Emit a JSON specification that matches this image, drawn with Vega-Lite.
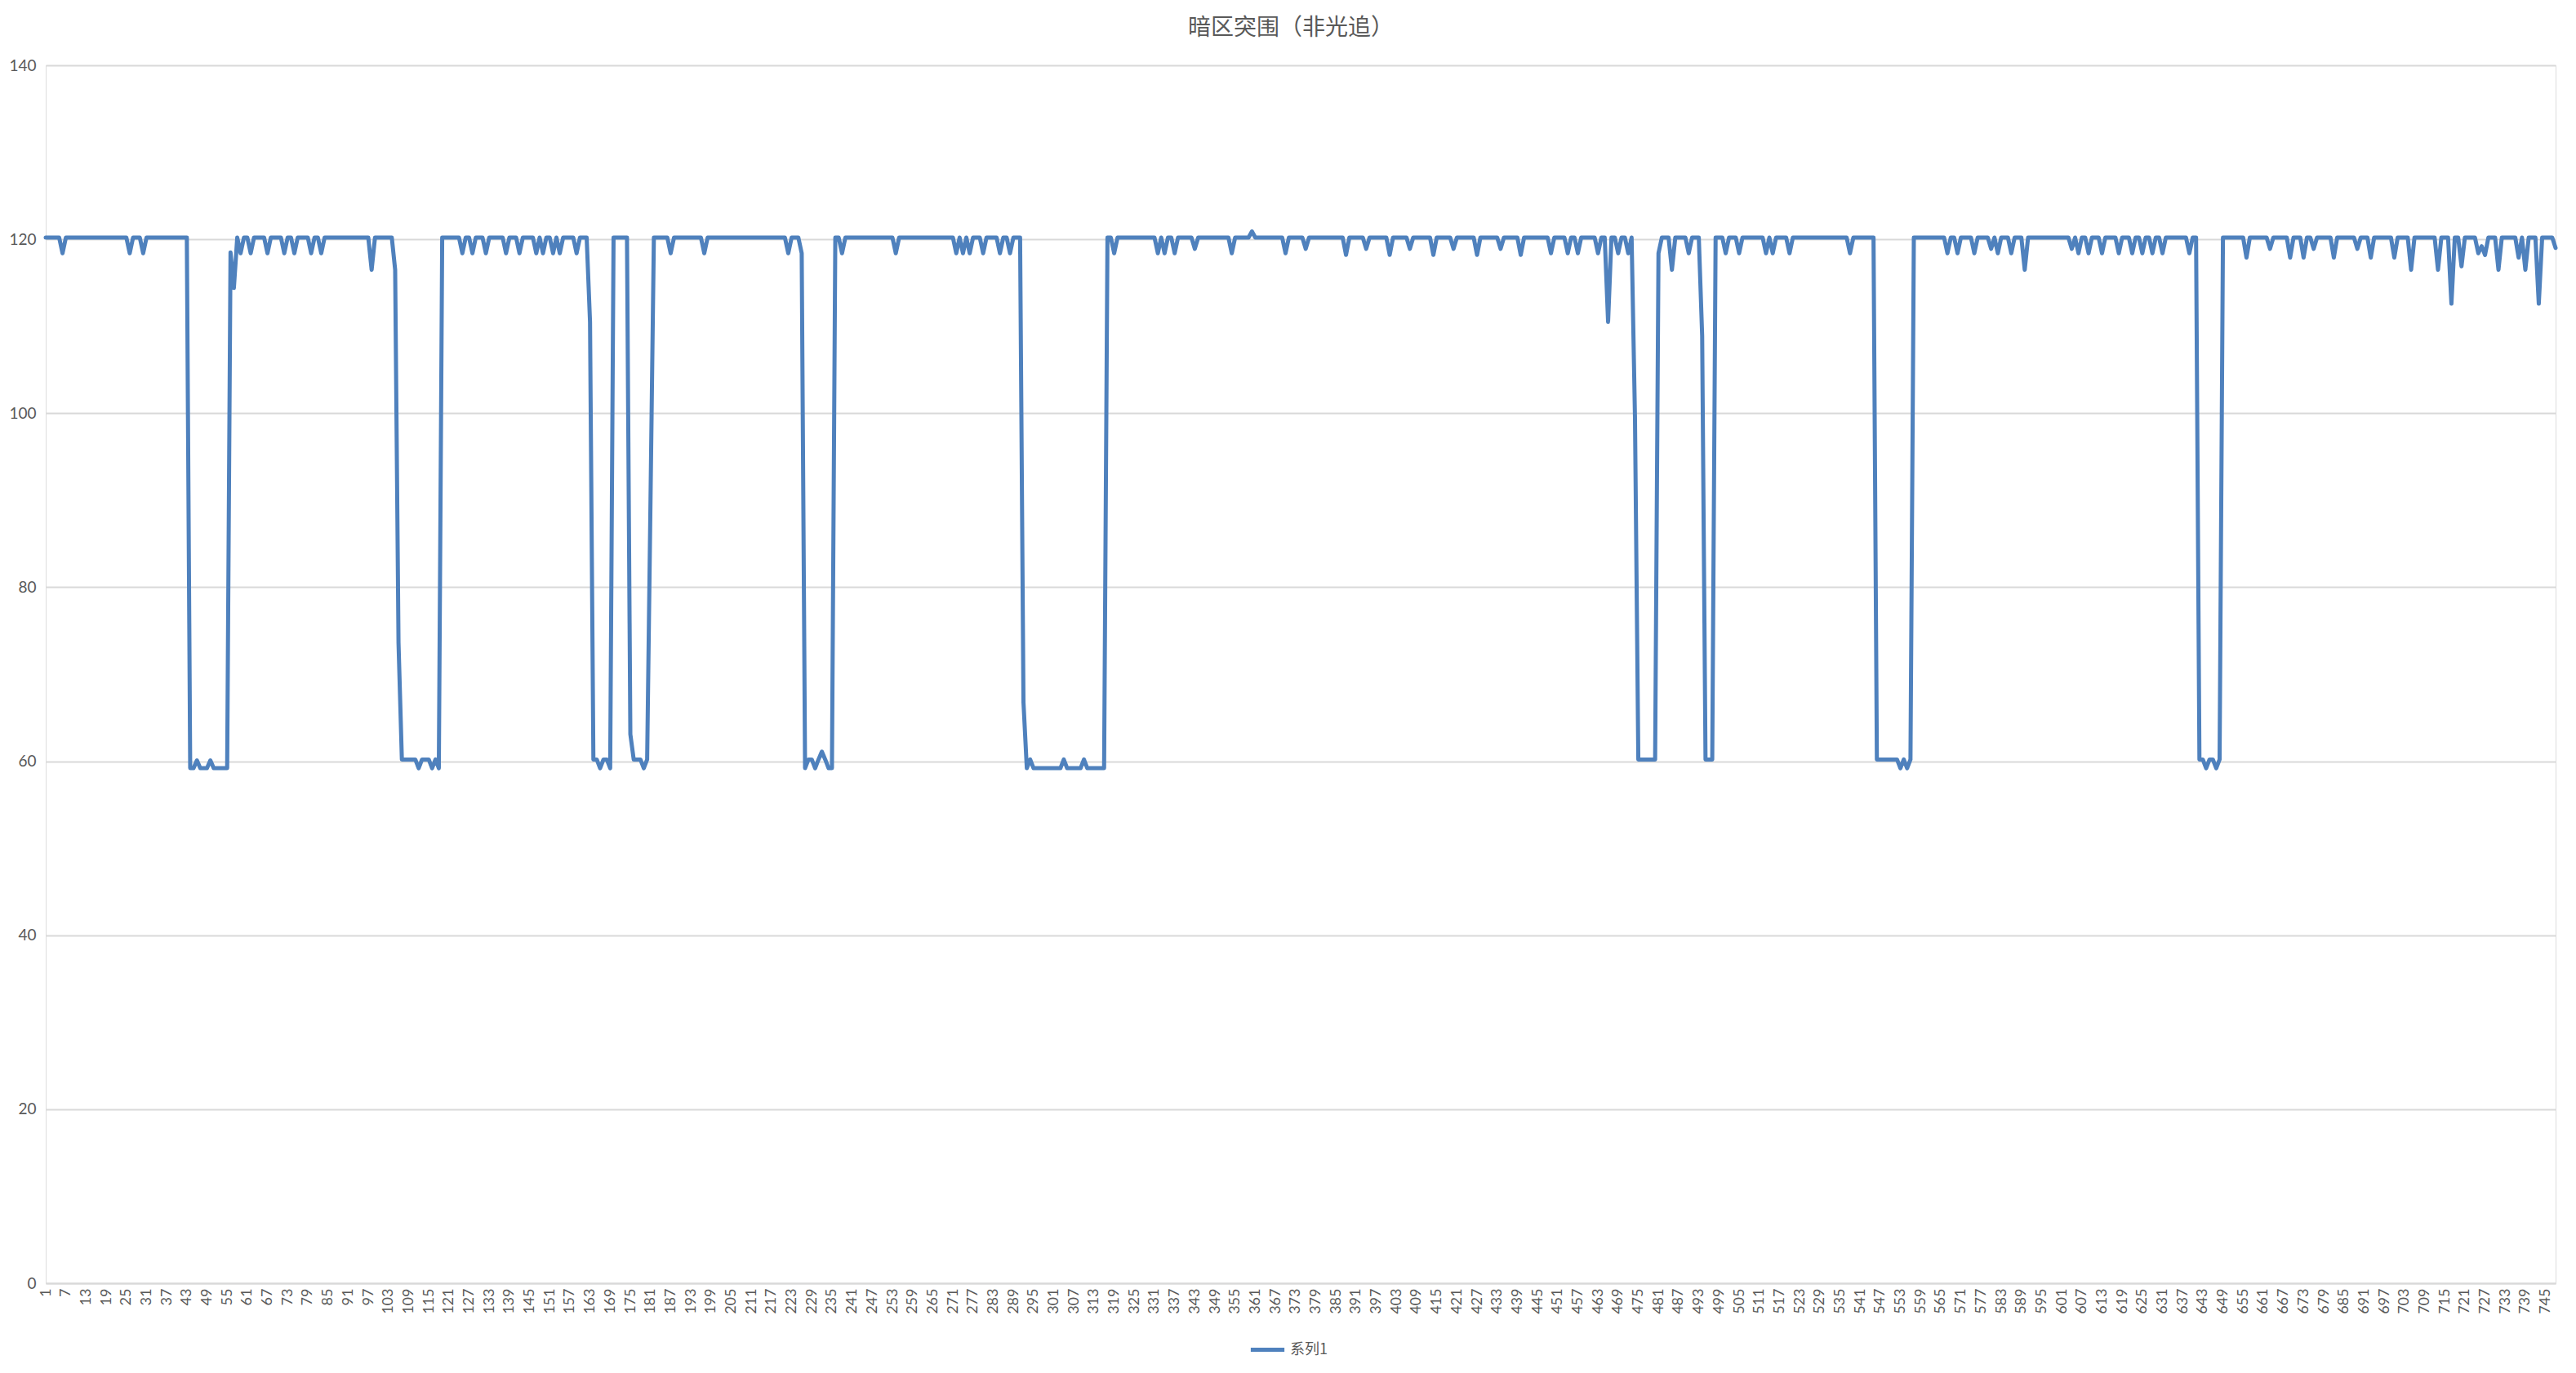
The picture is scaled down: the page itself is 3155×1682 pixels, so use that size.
{
"$schema": "https://vega.github.io/schema/vega-lite/v6.json",
"width": 3074,
"height": 1492,
"autosize": {"type": "none"},
"padding": {"left": 56, "top": 80, "right": 25, "bottom": 110},
"background": "white",
"title": {"text": "暗区突围（非光追）", "font": "Noto Sans CJK SC", "fontSize": 28, "fontWeight": "normal", "color": "#595959", "anchor": "middle", "offset": 22, "dx": -12},
"data": {"values": [
{"i":1,"v":120.2},{"i":2,"v":120.2},{"i":3,"v":120.2},{"i":4,"v":120.2},{"i":5,"v":120.2},{"i":6,"v":118.4},{"i":7,"v":120.2},{"i":8,"v":120.2},{"i":9,"v":120.2},{"i":10,"v":120.2},
{"i":11,"v":120.2},{"i":12,"v":120.2},{"i":13,"v":120.2},{"i":14,"v":120.2},{"i":15,"v":120.2},{"i":16,"v":120.2},{"i":17,"v":120.2},{"i":18,"v":120.2},{"i":19,"v":120.2},{"i":20,"v":120.2},
{"i":21,"v":120.2},{"i":22,"v":120.2},{"i":23,"v":120.2},{"i":24,"v":120.2},{"i":25,"v":120.2},{"i":26,"v":118.4},{"i":27,"v":120.2},{"i":28,"v":120.2},{"i":29,"v":120.2},{"i":30,"v":118.4},
{"i":31,"v":120.2},{"i":32,"v":120.2},{"i":33,"v":120.2},{"i":34,"v":120.2},{"i":35,"v":120.2},{"i":36,"v":120.2},{"i":37,"v":120.2},{"i":38,"v":120.2},{"i":39,"v":120.2},{"i":40,"v":120.2},
{"i":41,"v":120.2},{"i":42,"v":120.2},{"i":43,"v":120.2},{"i":44,"v":59.2},{"i":45,"v":59.2},{"i":46,"v":60.1},{"i":47,"v":59.2},{"i":48,"v":59.2},{"i":49,"v":59.2},{"i":50,"v":60.1},
{"i":51,"v":59.2},{"i":52,"v":59.2},{"i":53,"v":59.2},{"i":54,"v":59.2},{"i":55,"v":59.2},{"i":56,"v":118.5},{"i":57,"v":114.4},{"i":58,"v":120.2},{"i":59,"v":118.4},{"i":60,"v":120.2},
{"i":61,"v":120.2},{"i":62,"v":118.4},{"i":63,"v":120.2},{"i":64,"v":120.2},{"i":65,"v":120.2},{"i":66,"v":120.2},{"i":67,"v":118.4},{"i":68,"v":120.2},{"i":69,"v":120.2},{"i":70,"v":120.2},
{"i":71,"v":120.2},{"i":72,"v":118.4},{"i":73,"v":120.2},{"i":74,"v":120.2},{"i":75,"v":118.4},{"i":76,"v":120.2},{"i":77,"v":120.2},{"i":78,"v":120.2},{"i":79,"v":120.2},{"i":80,"v":118.4},
{"i":81,"v":120.2},{"i":82,"v":120.2},{"i":83,"v":118.4},{"i":84,"v":120.2},{"i":85,"v":120.2},{"i":86,"v":120.2},{"i":87,"v":120.2},{"i":88,"v":120.2},{"i":89,"v":120.2},{"i":90,"v":120.2},
{"i":91,"v":120.2},{"i":92,"v":120.2},{"i":93,"v":120.2},{"i":94,"v":120.2},{"i":95,"v":120.2},{"i":96,"v":120.2},{"i":97,"v":120.2},{"i":98,"v":116.5},{"i":99,"v":120.2},{"i":100,"v":120.2},
{"i":101,"v":120.2},{"i":102,"v":120.2},{"i":103,"v":120.2},{"i":104,"v":120.2},{"i":105,"v":116.5},{"i":106,"v":73.6},{"i":107,"v":60.2},{"i":108,"v":60.2},{"i":109,"v":60.2},{"i":110,"v":60.2},
{"i":111,"v":60.2},{"i":112,"v":59.2},{"i":113,"v":60.2},{"i":114,"v":60.2},{"i":115,"v":60.2},{"i":116,"v":59.2},{"i":117,"v":60.2},{"i":118,"v":59.2},{"i":119,"v":120.2},{"i":120,"v":120.2},
{"i":121,"v":120.2},{"i":122,"v":120.2},{"i":123,"v":120.2},{"i":124,"v":120.2},{"i":125,"v":118.4},{"i":126,"v":120.2},{"i":127,"v":120.2},{"i":128,"v":118.4},{"i":129,"v":120.2},{"i":130,"v":120.2},
{"i":131,"v":120.2},{"i":132,"v":118.4},{"i":133,"v":120.2},{"i":134,"v":120.2},{"i":135,"v":120.2},{"i":136,"v":120.2},{"i":137,"v":120.2},{"i":138,"v":118.4},{"i":139,"v":120.2},{"i":140,"v":120.2},
{"i":141,"v":120.2},{"i":142,"v":118.4},{"i":143,"v":120.2},{"i":144,"v":120.2},{"i":145,"v":120.2},{"i":146,"v":120.2},{"i":147,"v":118.4},{"i":148,"v":120.2},{"i":149,"v":118.4},{"i":150,"v":120.2},
{"i":151,"v":120.2},{"i":152,"v":118.4},{"i":153,"v":120.2},{"i":154,"v":118.4},{"i":155,"v":120.2},{"i":156,"v":120.2},{"i":157,"v":120.2},{"i":158,"v":120.2},{"i":159,"v":118.4},{"i":160,"v":120.2},
{"i":161,"v":120.2},{"i":162,"v":120.2},{"i":163,"v":110.5},{"i":164,"v":60.2},{"i":165,"v":60.2},{"i":166,"v":59.2},{"i":167,"v":60.2},{"i":168,"v":60.2},{"i":169,"v":59.2},{"i":170,"v":120.2},
{"i":171,"v":120.2},{"i":172,"v":120.2},{"i":173,"v":120.2},{"i":174,"v":120.2},{"i":175,"v":63.1},{"i":176,"v":60.2},{"i":177,"v":60.2},{"i":178,"v":60.2},{"i":179,"v":59.2},{"i":180,"v":60.2},
{"i":181,"v":90.0},{"i":182,"v":120.2},{"i":183,"v":120.2},{"i":184,"v":120.2},{"i":185,"v":120.2},{"i":186,"v":120.2},{"i":187,"v":118.4},{"i":188,"v":120.2},{"i":189,"v":120.2},{"i":190,"v":120.2},
{"i":191,"v":120.2},{"i":192,"v":120.2},{"i":193,"v":120.2},{"i":194,"v":120.2},{"i":195,"v":120.2},{"i":196,"v":120.2},{"i":197,"v":118.4},{"i":198,"v":120.2},{"i":199,"v":120.2},{"i":200,"v":120.2},
{"i":201,"v":120.2},{"i":202,"v":120.2},{"i":203,"v":120.2},{"i":204,"v":120.2},{"i":205,"v":120.2},{"i":206,"v":120.2},{"i":207,"v":120.2},{"i":208,"v":120.2},{"i":209,"v":120.2},{"i":210,"v":120.2},
{"i":211,"v":120.2},{"i":212,"v":120.2},{"i":213,"v":120.2},{"i":214,"v":120.2},{"i":215,"v":120.2},{"i":216,"v":120.2},{"i":217,"v":120.2},{"i":218,"v":120.2},{"i":219,"v":120.2},{"i":220,"v":120.2},
{"i":221,"v":120.2},{"i":222,"v":118.4},{"i":223,"v":120.2},{"i":224,"v":120.2},{"i":225,"v":120.2},{"i":226,"v":118.4},{"i":227,"v":59.2},{"i":228,"v":60.2},{"i":229,"v":60.2},{"i":230,"v":59.2},
{"i":231,"v":60.2},{"i":232,"v":61.1},{"i":233,"v":60.2},{"i":234,"v":59.2},{"i":235,"v":59.2},{"i":236,"v":120.2},{"i":237,"v":120.2},{"i":238,"v":118.4},{"i":239,"v":120.2},{"i":240,"v":120.2},
{"i":241,"v":120.2},{"i":242,"v":120.2},{"i":243,"v":120.2},{"i":244,"v":120.2},{"i":245,"v":120.2},{"i":246,"v":120.2},{"i":247,"v":120.2},{"i":248,"v":120.2},{"i":249,"v":120.2},{"i":250,"v":120.2},
{"i":251,"v":120.2},{"i":252,"v":120.2},{"i":253,"v":120.2},{"i":254,"v":118.4},{"i":255,"v":120.2},{"i":256,"v":120.2},{"i":257,"v":120.2},{"i":258,"v":120.2},{"i":259,"v":120.2},{"i":260,"v":120.2},
{"i":261,"v":120.2},{"i":262,"v":120.2},{"i":263,"v":120.2},{"i":264,"v":120.2},{"i":265,"v":120.2},{"i":266,"v":120.2},{"i":267,"v":120.2},{"i":268,"v":120.2},{"i":269,"v":120.2},{"i":270,"v":120.2},
{"i":271,"v":120.2},{"i":272,"v":118.4},{"i":273,"v":120.2},{"i":274,"v":118.4},{"i":275,"v":120.2},{"i":276,"v":118.4},{"i":277,"v":120.2},{"i":278,"v":120.2},{"i":279,"v":120.2},{"i":280,"v":118.4},
{"i":281,"v":120.2},{"i":282,"v":120.2},{"i":283,"v":120.2},{"i":284,"v":120.2},{"i":285,"v":118.4},{"i":286,"v":120.2},{"i":287,"v":120.2},{"i":288,"v":118.4},{"i":289,"v":120.2},{"i":290,"v":120.2},
{"i":291,"v":120.2},{"i":292,"v":66.8},{"i":293,"v":59.2},{"i":294,"v":60.2},{"i":295,"v":59.2},{"i":296,"v":59.2},{"i":297,"v":59.2},{"i":298,"v":59.2},{"i":299,"v":59.2},{"i":300,"v":59.2},
{"i":301,"v":59.2},{"i":302,"v":59.2},{"i":303,"v":59.2},{"i":304,"v":60.2},{"i":305,"v":59.2},{"i":306,"v":59.2},{"i":307,"v":59.2},{"i":308,"v":59.2},{"i":309,"v":59.2},{"i":310,"v":60.2},
{"i":311,"v":59.2},{"i":312,"v":59.2},{"i":313,"v":59.2},{"i":314,"v":59.2},{"i":315,"v":59.2},{"i":316,"v":59.2},{"i":317,"v":120.2},{"i":318,"v":120.2},{"i":319,"v":118.4},{"i":320,"v":120.2},
{"i":321,"v":120.2},{"i":322,"v":120.2},{"i":323,"v":120.2},{"i":324,"v":120.2},{"i":325,"v":120.2},{"i":326,"v":120.2},{"i":327,"v":120.2},{"i":328,"v":120.2},{"i":329,"v":120.2},{"i":330,"v":120.2},
{"i":331,"v":120.2},{"i":332,"v":118.4},{"i":333,"v":120.2},{"i":334,"v":118.4},{"i":335,"v":120.2},{"i":336,"v":120.2},{"i":337,"v":118.4},{"i":338,"v":120.2},{"i":339,"v":120.2},{"i":340,"v":120.2},
{"i":341,"v":120.2},{"i":342,"v":120.2},{"i":343,"v":118.9},{"i":344,"v":120.2},{"i":345,"v":120.2},{"i":346,"v":120.2},{"i":347,"v":120.2},{"i":348,"v":120.2},{"i":349,"v":120.2},{"i":350,"v":120.2},
{"i":351,"v":120.2},{"i":352,"v":120.2},{"i":353,"v":120.2},{"i":354,"v":118.4},{"i":355,"v":120.2},{"i":356,"v":120.2},{"i":357,"v":120.2},{"i":358,"v":120.2},{"i":359,"v":120.2},{"i":360,"v":120.9},
{"i":361,"v":120.2},{"i":362,"v":120.2},{"i":363,"v":120.2},{"i":364,"v":120.2},{"i":365,"v":120.2},{"i":366,"v":120.2},{"i":367,"v":120.2},{"i":368,"v":120.2},{"i":369,"v":120.2},{"i":370,"v":118.4},
{"i":371,"v":120.2},{"i":372,"v":120.2},{"i":373,"v":120.2},{"i":374,"v":120.2},{"i":375,"v":120.2},{"i":376,"v":118.9},{"i":377,"v":120.2},{"i":378,"v":120.2},{"i":379,"v":120.2},{"i":380,"v":120.2},
{"i":381,"v":120.2},{"i":382,"v":120.2},{"i":383,"v":120.2},{"i":384,"v":120.2},{"i":385,"v":120.2},{"i":386,"v":120.2},{"i":387,"v":120.2},{"i":388,"v":118.2},{"i":389,"v":120.2},{"i":390,"v":120.2},
{"i":391,"v":120.2},{"i":392,"v":120.2},{"i":393,"v":120.2},{"i":394,"v":118.9},{"i":395,"v":120.2},{"i":396,"v":120.2},{"i":397,"v":120.2},{"i":398,"v":120.2},{"i":399,"v":120.2},{"i":400,"v":120.2},
{"i":401,"v":118.2},{"i":402,"v":120.2},{"i":403,"v":120.2},{"i":404,"v":120.2},{"i":405,"v":120.2},{"i":406,"v":120.2},{"i":407,"v":118.9},{"i":408,"v":120.2},{"i":409,"v":120.2},{"i":410,"v":120.2},
{"i":411,"v":120.2},{"i":412,"v":120.2},{"i":413,"v":120.2},{"i":414,"v":118.2},{"i":415,"v":120.2},{"i":416,"v":120.2},{"i":417,"v":120.2},{"i":418,"v":120.2},{"i":419,"v":120.2},{"i":420,"v":118.9},
{"i":421,"v":120.2},{"i":422,"v":120.2},{"i":423,"v":120.2},{"i":424,"v":120.2},{"i":425,"v":120.2},{"i":426,"v":120.2},{"i":427,"v":118.2},{"i":428,"v":120.2},{"i":429,"v":120.2},{"i":430,"v":120.2},
{"i":431,"v":120.2},{"i":432,"v":120.2},{"i":433,"v":120.2},{"i":434,"v":118.9},{"i":435,"v":120.2},{"i":436,"v":120.2},{"i":437,"v":120.2},{"i":438,"v":120.2},{"i":439,"v":120.2},{"i":440,"v":118.2},
{"i":441,"v":120.2},{"i":442,"v":120.2},{"i":443,"v":120.2},{"i":444,"v":120.2},{"i":445,"v":120.2},{"i":446,"v":120.2},{"i":447,"v":120.2},{"i":448,"v":120.2},{"i":449,"v":118.4},{"i":450,"v":120.2},
{"i":451,"v":120.2},{"i":452,"v":120.2},{"i":453,"v":120.2},{"i":454,"v":118.4},{"i":455,"v":120.2},{"i":456,"v":120.2},{"i":457,"v":118.4},{"i":458,"v":120.2},{"i":459,"v":120.2},{"i":460,"v":120.2},
{"i":461,"v":120.2},{"i":462,"v":120.2},{"i":463,"v":118.4},{"i":464,"v":120.2},{"i":465,"v":120.2},{"i":466,"v":110.5},{"i":467,"v":120.2},{"i":468,"v":120.2},{"i":469,"v":118.4},{"i":470,"v":120.2},
{"i":471,"v":120.2},{"i":472,"v":118.4},{"i":473,"v":120.2},{"i":474,"v":99.6},{"i":475,"v":60.2},{"i":476,"v":60.2},{"i":477,"v":60.2},{"i":478,"v":60.2},{"i":479,"v":60.2},{"i":480,"v":60.2},
{"i":481,"v":118.4},{"i":482,"v":120.2},{"i":483,"v":120.2},{"i":484,"v":120.2},{"i":485,"v":116.5},{"i":486,"v":120.2},{"i":487,"v":120.2},{"i":488,"v":120.2},{"i":489,"v":120.2},{"i":490,"v":118.4},
{"i":491,"v":120.2},{"i":492,"v":120.2},{"i":493,"v":120.2},{"i":494,"v":108.9},{"i":495,"v":60.2},{"i":496,"v":60.2},{"i":497,"v":60.2},{"i":498,"v":120.2},{"i":499,"v":120.2},{"i":500,"v":120.2},
{"i":501,"v":118.4},{"i":502,"v":120.2},{"i":503,"v":120.2},{"i":504,"v":120.2},{"i":505,"v":118.4},{"i":506,"v":120.2},{"i":507,"v":120.2},{"i":508,"v":120.2},{"i":509,"v":120.2},{"i":510,"v":120.2},
{"i":511,"v":120.2},{"i":512,"v":120.2},{"i":513,"v":118.4},{"i":514,"v":120.2},{"i":515,"v":118.4},{"i":516,"v":120.2},{"i":517,"v":120.2},{"i":518,"v":120.2},{"i":519,"v":120.2},{"i":520,"v":118.4},
{"i":521,"v":120.2},{"i":522,"v":120.2},{"i":523,"v":120.2},{"i":524,"v":120.2},{"i":525,"v":120.2},{"i":526,"v":120.2},{"i":527,"v":120.2},{"i":528,"v":120.2},{"i":529,"v":120.2},{"i":530,"v":120.2},
{"i":531,"v":120.2},{"i":532,"v":120.2},{"i":533,"v":120.2},{"i":534,"v":120.2},{"i":535,"v":120.2},{"i":536,"v":120.2},{"i":537,"v":120.2},{"i":538,"v":118.4},{"i":539,"v":120.2},{"i":540,"v":120.2},
{"i":541,"v":120.2},{"i":542,"v":120.2},{"i":543,"v":120.2},{"i":544,"v":120.2},{"i":545,"v":120.2},{"i":546,"v":60.2},{"i":547,"v":60.2},{"i":548,"v":60.2},{"i":549,"v":60.2},{"i":550,"v":60.2},
{"i":551,"v":60.2},{"i":552,"v":60.2},{"i":553,"v":59.2},{"i":554,"v":60.2},{"i":555,"v":59.2},{"i":556,"v":60.2},{"i":557,"v":120.2},{"i":558,"v":120.2},{"i":559,"v":120.2},{"i":560,"v":120.2},
{"i":561,"v":120.2},{"i":562,"v":120.2},{"i":563,"v":120.2},{"i":564,"v":120.2},{"i":565,"v":120.2},{"i":566,"v":120.2},{"i":567,"v":118.4},{"i":568,"v":120.2},{"i":569,"v":120.2},{"i":570,"v":118.4},
{"i":571,"v":120.2},{"i":572,"v":120.2},{"i":573,"v":120.2},{"i":574,"v":120.2},{"i":575,"v":118.4},{"i":576,"v":120.2},{"i":577,"v":120.2},{"i":578,"v":120.2},{"i":579,"v":120.2},{"i":580,"v":118.9},
{"i":581,"v":120.2},{"i":582,"v":118.4},{"i":583,"v":120.2},{"i":584,"v":120.2},{"i":585,"v":120.2},{"i":586,"v":118.4},{"i":587,"v":120.2},{"i":588,"v":120.2},{"i":589,"v":120.2},{"i":590,"v":116.5},
{"i":591,"v":120.2},{"i":592,"v":120.2},{"i":593,"v":120.2},{"i":594,"v":120.2},{"i":595,"v":120.2},{"i":596,"v":120.2},{"i":597,"v":120.2},{"i":598,"v":120.2},{"i":599,"v":120.2},{"i":600,"v":120.2},
{"i":601,"v":120.2},{"i":602,"v":120.2},{"i":603,"v":120.2},{"i":604,"v":118.9},{"i":605,"v":120.2},{"i":606,"v":118.4},{"i":607,"v":120.2},{"i":608,"v":120.2},{"i":609,"v":118.4},{"i":610,"v":120.2},
{"i":611,"v":120.2},{"i":612,"v":120.2},{"i":613,"v":118.4},{"i":614,"v":120.2},{"i":615,"v":120.2},{"i":616,"v":120.2},{"i":617,"v":120.2},{"i":618,"v":118.4},{"i":619,"v":120.2},{"i":620,"v":120.2},
{"i":621,"v":120.2},{"i":622,"v":118.4},{"i":623,"v":120.2},{"i":624,"v":120.2},{"i":625,"v":118.4},{"i":626,"v":120.2},{"i":627,"v":120.2},{"i":628,"v":118.4},{"i":629,"v":120.2},{"i":630,"v":120.2},
{"i":631,"v":118.4},{"i":632,"v":120.2},{"i":633,"v":120.2},{"i":634,"v":120.2},{"i":635,"v":120.2},{"i":636,"v":120.2},{"i":637,"v":120.2},{"i":638,"v":120.2},{"i":639,"v":118.4},{"i":640,"v":120.2},
{"i":641,"v":120.2},{"i":642,"v":60.2},{"i":643,"v":60.2},{"i":644,"v":59.2},{"i":645,"v":60.2},{"i":646,"v":60.2},{"i":647,"v":59.2},{"i":648,"v":60.2},{"i":649,"v":120.2},{"i":650,"v":120.2},
{"i":651,"v":120.2},{"i":652,"v":120.2},{"i":653,"v":120.2},{"i":654,"v":120.2},{"i":655,"v":120.2},{"i":656,"v":117.9},{"i":657,"v":120.2},{"i":658,"v":120.2},{"i":659,"v":120.2},{"i":660,"v":120.2},
{"i":661,"v":120.2},{"i":662,"v":120.2},{"i":663,"v":118.9},{"i":664,"v":120.2},{"i":665,"v":120.2},{"i":666,"v":120.2},{"i":667,"v":120.2},{"i":668,"v":120.2},{"i":669,"v":117.9},{"i":670,"v":120.2},
{"i":671,"v":120.2},{"i":672,"v":120.2},{"i":673,"v":117.9},{"i":674,"v":120.2},{"i":675,"v":120.2},{"i":676,"v":118.9},{"i":677,"v":120.2},{"i":678,"v":120.2},{"i":679,"v":120.2},{"i":680,"v":120.2},
{"i":681,"v":120.2},{"i":682,"v":117.9},{"i":683,"v":120.2},{"i":684,"v":120.2},{"i":685,"v":120.2},{"i":686,"v":120.2},{"i":687,"v":120.2},{"i":688,"v":120.2},{"i":689,"v":118.9},{"i":690,"v":120.2},
{"i":691,"v":120.2},{"i":692,"v":120.2},{"i":693,"v":117.9},{"i":694,"v":120.2},{"i":695,"v":120.2},{"i":696,"v":120.2},{"i":697,"v":120.2},{"i":698,"v":120.2},{"i":699,"v":120.2},{"i":700,"v":117.9},
{"i":701,"v":120.2},{"i":702,"v":120.2},{"i":703,"v":120.2},{"i":704,"v":120.2},{"i":705,"v":116.5},{"i":706,"v":120.2},{"i":707,"v":120.2},{"i":708,"v":120.2},{"i":709,"v":120.2},{"i":710,"v":120.2},
{"i":711,"v":120.2},{"i":712,"v":120.2},{"i":713,"v":116.5},{"i":714,"v":120.2},{"i":715,"v":120.2},{"i":716,"v":120.2},{"i":717,"v":112.6},{"i":718,"v":120.2},{"i":719,"v":120.2},{"i":720,"v":116.9},
{"i":721,"v":120.2},{"i":722,"v":120.2},{"i":723,"v":120.2},{"i":724,"v":120.2},{"i":725,"v":118.4},{"i":726,"v":119.2},{"i":727,"v":118.2},{"i":728,"v":120.2},{"i":729,"v":120.2},{"i":730,"v":120.2},
{"i":731,"v":116.5},{"i":732,"v":120.2},{"i":733,"v":120.2},{"i":734,"v":120.2},{"i":735,"v":120.2},{"i":736,"v":120.2},{"i":737,"v":117.9},{"i":738,"v":120.2},{"i":739,"v":116.5},{"i":740,"v":120.2},
{"i":741,"v":120.2},{"i":742,"v":120.2},{"i":743,"v":112.6},{"i":744,"v":120.2},{"i":745,"v":120.2},{"i":746,"v":120.2},{"i":747,"v":120.2},{"i":748,"v":119.0}
]},
"mark": {"type": "line", "strokeWidth": 5, "strokeJoin": "round", "strokeCap": "round"},
"encoding": {
"x": {"field": "i", "type": "quantitative", "scale": {"domain": [1, 748], "nice": false, "zero": false},
 "axis": {"values": [1,7,13,19,25,31,37,43,49,55,61,67,73,79,85,91,97,103,109,115,121,127,133,139,145,151,157,163,169,175,181,187,193,199,205,211,217,223,229,235,241,247,253,259,265,271,277,283,289,295,301,307,313,319,325,331,337,343,349,355,361,367,373,379,385,391,397,403,409,415,421,427,433,439,445,451,457,463,469,475,481,487,493,499,505,511,517,523,529,535,541,547,553,559,565,571,577,583,589,595,601,607,613,619,625,631,637,643,649,655,661,667,673,679,685,691,697,703,709,715,721,727,733,739,745],
  "labelAngle": -90, "labelFontSize": 18, "labelColor": "#595959", "labelFont": "Lato", "labelOverlap": false, "labelFlush": false, "labelPadding": 6,
  "grid": false, "ticks": false, "domainColor": "#d9d9d9", "domainWidth": 2, "title": null}},
"y": {"field": "v", "type": "quantitative", "scale": {"domain": [0, 140], "nice": false},
 "axis": {"values": [0,20,40,60,80,100,120,140], "labelFontSize": 19, "labelColor": "#595959", "labelFont": "Lato", "labelPadding": 12,
  "grid": true, "gridColor": "#d9d9d9", "gridWidth": 2, "domain": false, "ticks": false, "title": null}},
"color": {"datum": "系列1", "scale": {"range": ["#4F81BD"]},
 "legend": {"title": null, "orient": "none", "legendX": 1473, "legendY": 1550, "padding": 0, "symbolType": "stroke", "symbolStrokeWidth": 5, "symbolSize": 1700, "labelFont": "Noto Sans CJK SC", "labelFontSize": 18, "labelColor": "#595959"}}
}
}
